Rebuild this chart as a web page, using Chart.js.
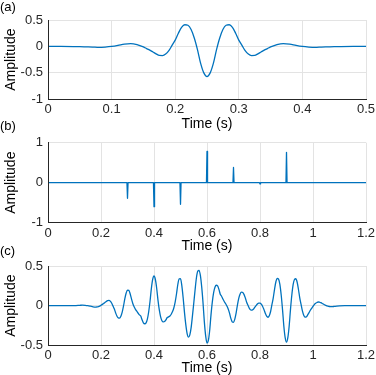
<!DOCTYPE html>
<html>
<head>
<meta charset="utf-8">
<script src="https://cdn.jsdelivr.net/npm/chart.js@4.4.1/dist/chart.umd.min.js"></script>
<style>
  html, body { margin: 0; padding: 0; background: #fff; overflow: hidden; }
  body { width: 376px; height: 375px; position: relative; }
  canvas { position: absolute; left: 0; }
</style>
</head>
<body>
<canvas id="wavelet" width="376" height="133" style="top:0px"></canvas>
<canvas id="reflect" width="376" height="136" style="top:119px"></canvas>
<canvas id="trace" width="376" height="133" style="top:244px"></canvas>
<script>
// (a) source wavelet
const waveletTime = [0, 0.02, 0.04, 0.05, 0.06, 0.07, 0.08, 0.09, 0.1, 0.11, 0.12, 0.13, 0.14,
  0.15, 0.155, 0.16, 0.165, 0.17, 0.175, 0.18, 0.185, 0.19, 0.195,
  0.2, 0.205, 0.21, 0.215, 0.22, 0.225, 0.23, 0.235, 0.24, 0.245,
  0.25, 0.255, 0.26, 0.265, 0.27, 0.275, 0.28, 0.285, 0.29, 0.295,
  0.3, 0.305, 0.31, 0.315, 0.32, 0.325, 0.33, 0.335, 0.34, 0.345, 0.35,
  0.36, 0.37, 0.38, 0.39, 0.4, 0.41, 0.42, 0.43, 0.44, 0.45, 0.46, 0.48, 0.5];
const waveletAmp = [0, 0, -0.002, -0.004, -0.008, -0.012, -0.018, -0.012, 0, 0.02, 0.045, 0.055, 0.035,
  -0.01, -0.04, -0.07, -0.105, -0.14, -0.17, -0.172, -0.145, -0.08, 0.02,
  0.12, 0.25, 0.36, 0.41, 0.40, 0.32, 0.16, -0.06, -0.32, -0.50,
  -0.57, -0.50, -0.32, -0.06, 0.16, 0.32, 0.40, 0.41, 0.36, 0.25,
  0.12, 0.02, -0.08, -0.145, -0.172, -0.17, -0.14, -0.105, -0.07, -0.04, -0.01,
  0.035, 0.055, 0.045, 0.02, 0, -0.012, -0.018, -0.012, -0.008, -0.004, -0.002, 0, 0];

// (b) reflectivity spikes
const spikeTime = [0.3, 0.4, 0.5, 0.6, 0.7, 0.8, 0.9];
const spikeAmp = [-0.39, -0.6, -0.54, 0.78, 0.38, -0.03, 0.76];
const spikeDt = 0.002;

// (c) synthetic trace
const traceTime = [0, 0.05, 0.1, 0.12, 0.13, 0.14, 0.15, 0.16, 0.17, 0.18, 0.185, 0.19, 0.195,
  0.2, 0.205, 0.21, 0.215, 0.22, 0.225, 0.23, 0.235, 0.24, 0.245,
  0.25, 0.255, 0.26, 0.265, 0.27, 0.275, 0.28, 0.285, 0.29, 0.295,
  0.3, 0.305, 0.31, 0.315, 0.32, 0.325, 0.33, 0.335, 0.34, 0.345,
  0.35, 0.355, 0.36, 0.365, 0.37, 0.375, 0.38, 0.385, 0.39, 0.395,
  0.4, 0.405, 0.41, 0.415, 0.42, 0.425, 0.43, 0.435, 0.44, 0.445,
  0.45, 0.455, 0.46, 0.465, 0.47, 0.475, 0.48, 0.485, 0.49, 0.495,
  0.5, 0.505, 0.51, 0.515, 0.52, 0.525, 0.53, 0.535, 0.54, 0.545,
  0.55, 0.555, 0.56, 0.565, 0.57, 0.575, 0.58, 0.585, 0.59, 0.595,
  0.6, 0.605, 0.61, 0.615, 0.62, 0.625, 0.63, 0.635, 0.64, 0.645,
  0.65, 0.655, 0.66, 0.665, 0.67, 0.675, 0.68, 0.685, 0.69, 0.695,
  0.7, 0.705, 0.71, 0.715, 0.72, 0.725, 0.73, 0.735, 0.74, 0.745,
  0.75, 0.755, 0.76, 0.765, 0.77, 0.775, 0.78, 0.785, 0.79, 0.795,
  0.8, 0.805, 0.81, 0.815, 0.82, 0.825, 0.83, 0.835, 0.84, 0.845,
  0.85, 0.855, 0.86, 0.865, 0.87, 0.875, 0.88, 0.885, 0.89, 0.895,
  0.9, 0.905, 0.91, 0.915, 0.92, 0.925, 0.93, 0.935, 0.94, 0.945,
  0.95, 0.955, 0.96, 0.965, 0.97, 0.975, 0.98, 0.985, 0.99, 0.995,
  1.0, 1.005, 1.01, 1.015, 1.02, 1.025, 1.03, 1.035, 1.04, 1.045,
  1.05, 1.055, 1.06, 1.065, 1.07, 1.075, 1.08, 1.09, 1.1, 1.12, 1.2];
const traceAmp = [0, 0, 0, 0.004, 0.006, 0.004, 0, -0.007, -0.015, -0.018, -0.016, -0.012, -0.005,
  0.005, 0.016, 0.028, 0.040, 0.053, 0.063, 0.066, 0.057, 0.033, -0.003,
  -0.040, -0.089, -0.131, -0.155, -0.157, -0.134, -0.082, -0.004, 0.089, 0.160,
  0.196, 0.193, 0.150, 0.085, 0.028, -0.015, -0.047, -0.070, -0.095, -0.117,
  -0.131, -0.179, -0.216, -0.228, -0.217, -0.169, -0.077, 0.055, 0.214, 0.330,
  0.374, 0.333, 0.223, 0.070, -0.054, -0.141, -0.190, -0.205, -0.201, -0.179,
  -0.150, -0.141, -0.130, -0.108, -0.075, -0.026, 0.048, 0.150, 0.270, 0.338,
  0.340, 0.253, 0.100, -0.085, -0.240, -0.353, -0.396, -0.371, -0.281, -0.132,
  0.030, 0.198, 0.349, 0.433, 0.446, 0.382, 0.236, 0.035, -0.205, -0.382,
  -0.472, -0.442, -0.316, -0.120, 0.044, 0.163, 0.232, 0.257, 0.250, 0.205,
  0.145, 0.119, 0.083, 0.052, 0.027, -0.004, -0.041, -0.094, -0.161, -0.204,
  -0.211, -0.169, -0.091, 0.010, 0.094, 0.147, 0.170, 0.165, 0.139, 0.093,
  0.040, 0.003, -0.035, -0.055, -0.057, -0.045, -0.022, 0.000, 0.020, 0.033,
  0.033, 0.018, -0.010, -0.050, -0.095, -0.132, -0.146, -0.127, -0.074, 0.013,
  0.098, 0.209, 0.301, 0.344, 0.335, 0.269, 0.134, -0.050, -0.259, -0.404,
  -0.460, -0.404, -0.259, -0.050, 0.131, 0.264, 0.330, 0.339, 0.298, 0.207,
  0.099, 0.016, -0.067, -0.121, -0.144, -0.142, -0.117, -0.088, -0.058, -0.033,
  -0.008, 0.013, 0.029, 0.040, 0.046, 0.043, 0.038, 0.028, 0.017, 0.008,
  0.000, -0.005, -0.010, -0.013, -0.013, -0.012, -0.010, -0.006, -0.003, 0, 0];

// tick positions
const xTicksA = [0, 0.1, 0.2, 0.3, 0.4, 0.5];
const yTicksA = [-1, -0.5, 0, 0.5];
const xTicksBC = [0, 0.2, 0.4, 0.6, 0.8, 1, 1.2];
const yTicksB = [-1, 0, 1];
const yTicksC = [-0.5, 0, 0.5];

const lineBlue = '#0072BD';
const axisColor = '#262626';
const gridColor = '#e3e3e3';

Chart.defaults.font.family = '"Liberation Sans", Arial, Helvetica, sans-serif';
Chart.defaults.color = '#262626';

const fmt = v => String(+Number(v).toFixed(2));
const toPoints = (xs, ys) => xs.map((x, i) => ({ x: x, y: ys[i] }));

// reflectivity series: zero trace with one-sample spikes
const spikePoints = [{ x: 0, y: 0 }];
spikeTime.forEach((t, i) => {
  spikePoints.push({ x: t - spikeDt, y: 0 }, { x: t, y: spikeAmp[i] }, { x: t + spikeDt, y: 0 });
});
spikePoints.push({ x: 1.2, y: 0 });

function panel(id, cfg) {
  const xt = cfg.xTicks, yt = cfg.yTicks;
  // no light grid line on top of the dark left/bottom axes
  const gridFor = first => ctx => (ctx.tick && ctx.tick.value === first) ? 'rgba(0,0,0,0)' : gridColor;
  return new Chart(document.getElementById(id), {
    type: 'line',
    data: {
      datasets: [{
        data: cfg.points,
        borderColor: lineBlue,
        borderWidth: 1.3,
        pointRadius: 0,
        fill: false,
        tension: 0,
        cubicInterpolationMode: cfg.smooth ? 'monotone' : 'default',
        borderJoinStyle: 'round',
        borderCapStyle: 'round'
      }]
    },
    options: {
      responsive: false,
      animation: false,
      events: [],
      layout: { padding: { top: 0, right: 10, bottom: 0, left: 0 } },
      plugins: {
        legend: { display: false },
        tooltip: { enabled: false },
        title: {
          display: true, text: cfg.label, align: 'start', color: '#000',
          font: { size: 13, weight: 'normal' },
          padding: { top: 0, bottom: cfg.titleGap }
        }
      },
      scales: {
        x: {
          type: 'linear', min: xt[0], max: xt[xt.length - 1],
          afterBuildTicks: s => { s.ticks = xt.map(v => ({ value: v })); },
          afterFit: s => { s.height = cfg.xAxisH; s.paddingLeft = 0; s.paddingRight = 0; },
          grid: { color: gridFor(xt[0]), drawTicks: false },
          border: { color: axisColor, width: 1, z: 1 },
          ticks: { font: { size: 13 }, padding: 2.5, maxRotation: 0, autoSkip: false, callback: fmt },
          title: { display: true, text: 'Time (s)', font: { size: 14 }, padding: 0, color: '#000' }
        },
        y: {
          type: 'linear', min: yt[0], max: yt[yt.length - 1],
          afterBuildTicks: s => { s.ticks = yt.map(v => ({ value: v })); },
          afterFit: s => { s.width = 48; s.paddingTop = 0; s.paddingBottom = 0; },
          grid: { color: gridFor(yt[0]), drawTicks: false },
          border: { color: axisColor, width: 1, z: 1 },
          ticks: { font: { size: 13 }, padding: 5, autoSkip: false, callback: fmt },
          title: { display: true, text: 'Amplitude', font: { size: 14 }, padding: { top: 3, bottom: 0 }, color: '#000' }
        }
      }
    }
  });
}

panel('wavelet', {
  label: '(a)', points: toPoints(waveletTime, waveletAmp), smooth: true,
  xTicks: xTicksA, yTicks: yTicksA, titleGap: 4.4, xAxisH: 33.7
});
panel('reflect', {
  label: '(b)', points: spikePoints, smooth: false,
  xTicks: xTicksBC, yTicks: yTicksB, titleGap: 8.1, xAxisH: 32.3
});
panel('trace', {
  label: '(c)', points: toPoints(traceTime, traceAmp), smooth: true,
  xTicks: xTicksBC, yTicks: yTicksC, titleGap: 6.4, xAxisH: 31.7
});
</script>
</body>
</html>
